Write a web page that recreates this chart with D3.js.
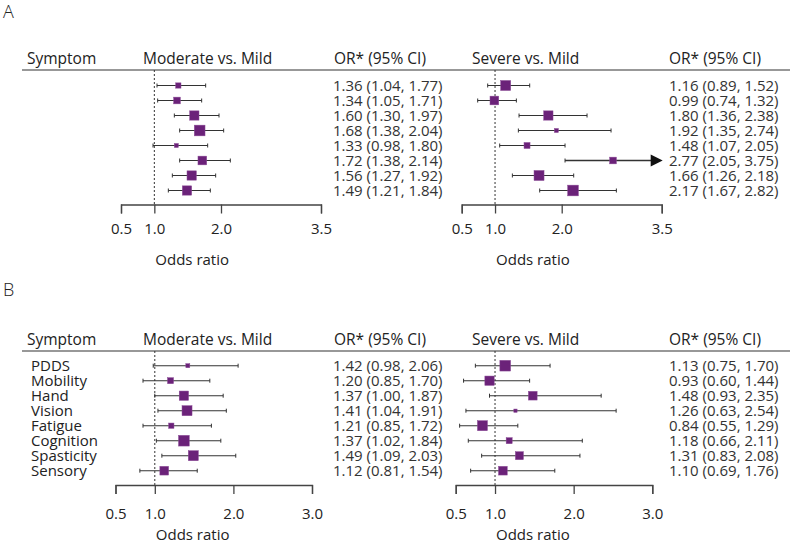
<!DOCTYPE html>
<html>
<head>
<meta charset="utf-8">
<script src="https://cdn.jsdelivr.net/npm/d3@7"></script>
<style>
  html, body { margin: 0; padding: 0; background: #fff; }
  svg { display: block; font-family: "Open Sans", sans-serif; }
</style>
</head>
<body>
<svg id="chart" width="791" height="545"></svg>
<script>
// ---------- data ----------
const symptomsA = ["", "", "", "", "", "", "", ""];
const symptomsB = ["PDDS", "Mobility", "Hand", "Vision", "Fatigue", "Cognition", "Spasticity", "Sensory"];

const aModOR = [1.36, 1.34, 1.60, 1.68, 1.33, 1.72, 1.56, 1.49];
const aModLo = [1.04, 1.05, 1.30, 1.38, 0.98, 1.38, 1.27, 1.21];
const aModHi = [1.77, 1.71, 1.97, 2.04, 1.80, 2.14, 1.92, 1.84];
const aModW  = [5.3, 6.7, 9.3, 10.7, 4.0, 8.7, 9.3, 9.3];

const aSevOR = [1.16, 0.99, 1.80, 1.92, 1.48, 2.77, 1.66, 2.17];
const aSevLo = [0.89, 0.74, 1.36, 1.35, 1.07, 2.05, 1.26, 1.67];
const aSevHi = [1.52, 1.32, 2.38, 2.74, 2.05, 3.75, 2.18, 2.82];
const aSevW  = [10.0, 8.7, 9.3, 4.0, 6.0, 6.7, 10.0, 10.7];

const bModOR = [1.42, 1.20, 1.37, 1.41, 1.21, 1.37, 1.49, 1.12];
const bModLo = [0.98, 0.85, 1.00, 1.04, 0.85, 1.02, 1.09, 0.81];
const bModHi = [2.06, 1.70, 1.87, 1.91, 1.72, 1.84, 2.03, 1.54];
const bModW  = [4.0, 6.0, 9.3, 10.0, 5.3, 10.7, 10.0, 8.7];

const bSevOR = [1.13, 0.93, 1.48, 1.26, 0.84, 1.18, 1.31, 1.10];
const bSevLo = [0.75, 0.60, 0.93, 0.63, 0.55, 0.66, 0.83, 0.69];
const bSevHi = [1.70, 1.44, 2.35, 2.54, 1.29, 2.11, 2.08, 1.76];
const bSevW  = [10.7, 9.3, 8.7, 3.3, 10.0, 6.0, 8.0, 8.7];

const ticksA = [0.5, 1.0, 2.0, 3.5];
const ticksB = [0.5, 1.0, 2.0, 3.0];

const headers = { symptom: "Symptom", mod: "Moderate vs. Mild", sev: "Severe vs. Mild", or: "OR* (95% CI)" };
const axisTitle = "Odds ratio";

// ---------- drawing ----------
const svg = d3.select("#chart");
const PURPLE = "#6b2279";
const TEXT = "#222";
const f2 = d3.format(".2f");
const sizeScale = d3.scaleLinear().domain([0, 10]).range([0, 10]);

function drawForest(g, cfg) {
  const { x, or, lo, hi, w, rowY, top, axisY, ticks, labelPad } = cfg;
  const xmax = x.domain()[1];

  g.append("line")
    .attr("x1", x(1)).attr("x2", x(1))
    .attr("y1", top).attr("y2", axisY)
    .attr("stroke", "#333").attr("stroke-width", 1)
    .attr("stroke-dasharray", "2,2");

  const rows = or.map((d, i) => ({ or: d, lo: lo[i], hi: hi[i], w: w[i], i }));
  const rg = g.selectAll("g.row").data(rows).enter().append("g").attr("class", "row");

  rg.append("line")
    .attr("x1", d => x(d.lo)).attr("x2", d => x(Math.min(d.hi, xmax)) - (d.hi > xmax ? 8 : 0))
    .attr("y1", d => rowY(d.i)).attr("y2", d => rowY(d.i))
    .attr("stroke", "#333")
    .attr("stroke-width", d => d.hi > xmax ? 1.5 : 1.1);

  rg.append("line")
    .attr("x1", d => x(d.lo)).attr("x2", d => x(d.lo))
    .attr("y1", d => rowY(d.i) - 2).attr("y2", d => rowY(d.i) + 2)
    .attr("stroke", "#333").attr("stroke-width", 1);

  rg.filter(d => d.hi <= xmax).append("line")
    .attr("x1", d => x(d.hi)).attr("x2", d => x(d.hi))
    .attr("y1", d => rowY(d.i) - 2).attr("y2", d => rowY(d.i) + 2)
    .attr("stroke", "#333").attr("stroke-width", 1);

  rg.filter(d => d.hi > xmax).append("path")
    .attr("d", d => {
      const tx = x(xmax) + 1, y = rowY(d.i);
      return `M${tx},${y} L${tx - 12},${y - 6} L${tx - 12},${y + 6} Z`;
    })
    .attr("fill", "#111");

  rg.append("rect")
    .attr("x", d => x(d.or) - sizeScale(d.w) / 2)
    .attr("y", d => rowY(d.i) - sizeScale(d.w) / 2)
    .attr("width", d => sizeScale(d.w))
    .attr("height", d => sizeScale(d.w))
    .attr("fill", PURPLE)
    .attr("stroke", "#8a4a96").attr("stroke-width", 0.5);

  const ax = d3.axisBottom(x).tickValues(ticks).tickFormat(d3.format(".1f"))
    .tickSizeInner(9).tickSizeOuter(9).tickPadding(labelPad);
  const axg = g.append("g").attr("transform", `translate(0,${axisY})`).call(ax);
  axg.select(".domain").attr("stroke", "#444").attr("stroke-width", 1.3);
  axg.selectAll(".tick line").attr("stroke", "#444").attr("stroke-width", 1.3);
  axg.selectAll(".tick text").attr("fill", TEXT)
    .style("font-size", "15px").style("font-family", "'Open Sans', sans-serif");
}

function drawValues(g, xText, or, lo, hi, rowY) {
  g.selectAll(null).data(or).enter().append("text")
    .attr("x", xText).attr("y", (d, i) => rowY(i)).attr("dy", "0.36em")
    .attr("fill", "#333").style("font-size", "15px")
    .text((d, i) => `${f2(d)} (${f2(lo[i])}, ${f2(hi[i])})`);
}

function drawPanel(cfg) {
  const g = svg.append("g");
  const { letter, letterY, headY, lineY, row0, axisY, xL, xR, ticks, labels, data, labelPad, titleY } = cfg;
  const rowY = i => row0 + i * 15;

  g.append("text").attr("x", 3).attr("y", letterY).text(letter)
    .attr("fill", TEXT).style("font-size", "18px").style("font-weight", 300);

  g.append("text").attr("x", 27).attr("y", headY).text(headers.symptom).attr("fill", TEXT).style("font-size", "15.5px");
  g.append("text").attr("x", 143).attr("y", headY).text(headers.mod).attr("fill", TEXT).style("font-size", "15.5px");
  g.append("text").attr("x", 334).attr("y", headY).text(headers.or).attr("fill", TEXT).style("font-size", "15.5px");
  g.append("text").attr("x", 472).attr("y", headY).text(headers.sev).attr("fill", TEXT).style("font-size", "15.5px");
  g.append("text").attr("x", 669).attr("y", headY).text(headers.or).attr("fill", TEXT).style("font-size", "15.5px");

  g.append("line").attr("x1", 22).attr("x2", 790).attr("y1", lineY).attr("y2", lineY)
    .attr("stroke", "#333").attr("stroke-width", 1.2);

  g.selectAll(null).data(labels).enter().append("text")
    .attr("x", 31).attr("y", (d, i) => rowY(i)).attr("dy", "0.36em")
    .attr("fill", TEXT).style("font-size", "15px").text(d => d);

  const xl = d3.scaleLinear().domain([ticks[0], ticks[ticks.length - 1]]).range(xL);
  const xr = d3.scaleLinear().domain([ticks[0], ticks[ticks.length - 1]]).range(xR);

  drawForest(g.append("g"), { x: xl, or: data[0], lo: data[1], hi: data[2], w: data[3], rowY, top: lineY, axisY, ticks, labelPad });
  drawForest(g.append("g"), { x: xr, or: data[4], lo: data[5], hi: data[6], w: data[7], rowY, top: lineY, axisY, ticks, labelPad });

  drawValues(g, 333, data[0], data[1], data[2], rowY);
  drawValues(g, 669, data[4], data[5], data[6], rowY);

  g.append("text").attr("x", xl(1) + 1).attr("y", titleY).attr("dy", "0.36em").text(axisTitle)
    .attr("fill", TEXT).style("font-size", "15px");
  g.append("text").attr("x", xr(1) + 1).attr("y", titleY).attr("dy", "0.36em").text(axisTitle)
    .attr("fill", TEXT).style("font-size", "15px");
}

drawPanel({
  letter: "A", letterY: 18, headY: 64, lineY: 70, row0: 85.5, axisY: 204.5,
  xL: [121, 321], xR: [461.7, 661.7], ticks: ticksA, labels: symptomsA, labelPad: 10, titleY: 260,
  data: [aModOR, aModLo, aModHi, aModW, aSevOR, aSevLo, aSevHi, aSevW]
});

drawPanel({
  letter: "B", letterY: 296, headY: 345, lineY: 351, row0: 365.7, axisY: 485,
  xL: [115.5, 312], xR: [455.7, 652.3], ticks: ticksB, labels: symptomsB, labelPad: 14, titleY: 535,
  data: [bModOR, bModLo, bModHi, bModW, bSevOR, bSevLo, bSevHi, bSevW]
});
</script>
</body>
</html>
